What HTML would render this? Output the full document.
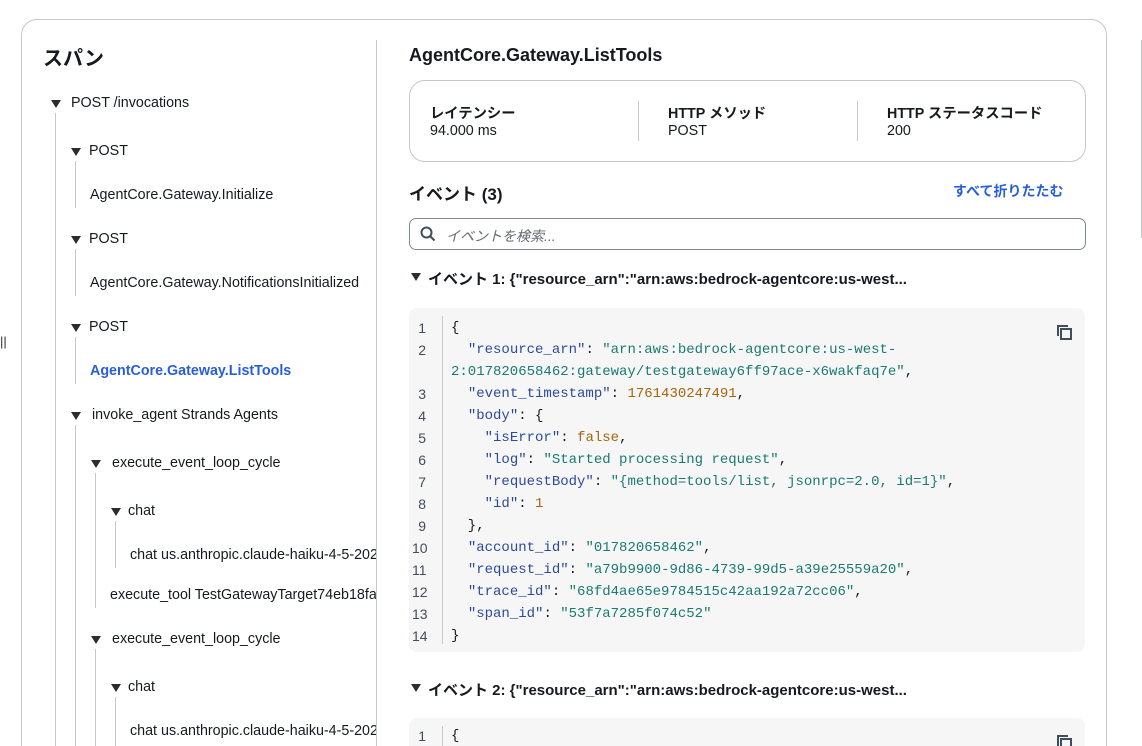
<!DOCTYPE html>
<html><head><meta charset="utf-8"><style>
html,body{margin:0;padding:0;overflow:hidden}
#w{width:1142px;height:746px;overflow:hidden;background:#fff;font-family:"Liberation Sans","Noto Sans CJK JP",sans-serif;color:#16191f;position:relative}
.a{position:absolute;white-space:nowrap}
.t{font-size:14.3px;color:#16191f}
.tri{position:absolute;width:0;height:0;border-left:5px solid transparent;border-right:5px solid transparent;border-top:8px solid #2a2e33}
.vl{position:absolute;width:1px;background:#c6c6cd}
.mono{font-family:"Liberation Mono","Noto Sans CJK JP",monospace;font-size:14px}
.k{color:#2c4a9a}.s{color:#1a7a70}.n{color:#a4650c}
</style></head><body><div id="w">
<div class="a" style="left:21px;top:19px;width:1084px;height:760px;border:1px solid #c6c6cd;border-radius:16px"></div>
<div class="vl" style="left:376px;top:40px;height:720px"></div>
<div class="vl" style="left:1141px;top:40px;height:198px"></div>
<div class="a" style="left:0;top:334px;font-size:13px;color:#333">||</div>

<div class="a" style="left:43px;top:42px;font-size:20px;font-weight:bold">スパン</div>

<div class="tri" style="left:51px;top:100px"></div><div class="a t" style="left:71px;top:95px">POST /invocations</div>
<div class="vl" style="left:55px;top:113px;height:640px"></div>

<div class="tri" style="left:71px;top:148px"></div><div class="a t" style="left:89px;top:143px">POST</div>
<div class="vl" style="left:75px;top:161px;height:47px"></div>
<div class="a t" style="left:90px;top:187px">AgentCore.Gateway.Initialize</div>

<div class="tri" style="left:71px;top:236px"></div><div class="a t" style="left:89px;top:231px">POST</div>
<div class="vl" style="left:75px;top:249px;height:47px"></div>
<div class="a t" style="left:90px;top:275px">AgentCore.Gateway.NotificationsInitialized</div>

<div class="tri" style="left:71px;top:324px"></div><div class="a t" style="left:89px;top:319px">POST</div>
<div class="vl" style="left:75px;top:337px;height:47px"></div>
<div class="a t" style="left:90px;top:363px;color:#295fd6;font-weight:bold">AgentCore.Gateway.ListTools</div>

<div class="tri" style="left:71px;top:412px"></div><div class="a t" style="left:92px;top:407px">invoke_agent Strands Agents</div>
<div class="vl" style="left:75px;top:425px;height:330px"></div>

<div class="tri" style="left:91px;top:460px"></div><div class="a t" style="left:112px;top:455px">execute_event_loop_cycle</div>
<div class="vl" style="left:95px;top:473px;height:135px"></div>
<div class="tri" style="left:111px;top:508px"></div><div class="a t" style="left:128px;top:503px">chat</div>
<div class="vl" style="left:115px;top:521px;height:47px"></div>
<div class="a t" style="left:130px;top:547px;width:246px;overflow:hidden">chat us.anthropic.claude-haiku-4-5-20251001</div>
<div class="a t" style="left:110px;top:587px;width:266px;overflow:hidden">execute_tool TestGatewayTarget74eb18fa</div>

<div class="tri" style="left:91px;top:636px"></div><div class="a t" style="left:112px;top:631px">execute_event_loop_cycle</div>
<div class="vl" style="left:95px;top:649px;height:110px"></div>
<div class="tri" style="left:111px;top:684px"></div><div class="a t" style="left:128px;top:679px">chat</div>
<div class="vl" style="left:115px;top:697px;height:60px"></div>
<div class="a t" style="left:130px;top:723px;width:246px;overflow:hidden">chat us.anthropic.claude-haiku-4-5-20251001</div>

<div class="a" style="left:409px;top:45px;font-size:18px;font-weight:bold">AgentCore.Gateway.ListTools</div>

<div class="a" style="left:409px;top:80px;width:675px;height:80px;border:1px solid #c6c6cd;border-radius:16px"></div>
<div class="a t" style="left:430px;top:102px;font-weight:bold">レイテンシー</div>
<div class="a t" style="left:430px;top:123px">94.000 ms</div>
<div class="vl" style="left:638px;top:101px;height:40px"></div>
<div class="a t" style="left:668px;top:102px;font-weight:bold">HTTP メソッド</div>
<div class="a t" style="left:668px;top:123px">POST</div>
<div class="vl" style="left:857px;top:101px;height:40px"></div>
<div class="a t" style="left:887px;top:102px;font-weight:bold">HTTP ステータスコード</div>
<div class="a t" style="left:887px;top:123px">200</div>

<div class="a" style="left:409px;top:180px;font-size:17px;font-weight:bold">イベント (3)</div>
<div class="a" style="left:953px;top:181px;font-size:14px;color:#295fd6;font-weight:bold">すべて折りたたむ</div>

<div class="a" style="left:409px;top:218px;width:675px;height:30px;border:1px solid #7d8998;border-radius:7px"></div>
<svg class="a" style="left:420px;top:226px" width="16" height="16"><circle cx="6.5" cy="6.5" r="5" fill="none" stroke="#414d5c" stroke-width="2"/><line x1="10" y1="10" x2="14.5" y2="14.5" stroke="#414d5c" stroke-width="2"/></svg>
<div class="a" style="left:446px;top:226px;font-size:14px;color:#656871;font-style:italic">イベントを検索...</div>

<div class="tri" style="left:411px;top:273px"></div>
<div class="a" style="left:428px;top:268px;font-size:15px;font-weight:bold">イベント 1: {"resource_arn":"arn:aws:bedrock-agentcore:us-west...</div>

<div class="a" style="left:409px;top:308px;width:676px;height:344px;background:#f6f6f7;border-radius:8px"></div>
<div class="vl" style="left:442px;top:316px;height:328px;background:#c6c6cd"></div>
<svg class="a" style="left:1055px;top:323px" width="18" height="18"><path d="M2 2v11h2V4h9V2z" fill="#414d5c"/><rect x="6" y="6" width="10" height="10" fill="none" stroke="#414d5c" stroke-width="2"/></svg>
<div class="a" style="left:412px;top:317px;line-height:22px;color:#414d5c;text-align:right;width:14px;font-size:14px">1<br>2<br><br>3<br>4<br>5<br>6<br>7<br>8<br>9<br>10<br>11<br>12<br>13<br>14</div>
<div class="a mono" style="left:451px;top:317px;line-height:22px;color:#16191f;white-space:pre">{
  <span class="k">"resource_arn"</span>: <span class="s">"arn:aws:bedrock-agentcore:us-west-</span>
<span class="s">2:017820658462:gateway/testgateway6ff97ace-x6wakfaq7e"</span>,
  <span class="k">"event_timestamp"</span>: <span class="n">1761430247491</span>,
  <span class="k">"body"</span>: {
    <span class="k">"isError"</span>: <span class="n">false</span>,
    <span class="k">"log"</span>: <span class="s">"Started processing request"</span>,
    <span class="k">"requestBody"</span>: <span class="s">"{method=tools/list, jsonrpc=2.0, id=1}"</span>,
    <span class="k">"id"</span>: <span class="n">1</span>
  },
  <span class="k">"account_id"</span>: <span class="s">"017820658462"</span>,
  <span class="k">"request_id"</span>: <span class="s">"a79b9900-9d86-4739-99d5-a39e25559a20"</span>,
  <span class="k">"trace_id"</span>: <span class="s">"68fd4ae65e9784515c42aa192a72cc06"</span>,
  <span class="k">"span_id"</span>: <span class="s">"53f7a7285f074c52"</span>
}</div>

<div class="tri" style="left:411px;top:684px"></div>
<div class="a" style="left:428px;top:679px;font-size:15px;font-weight:bold">イベント 2: {"resource_arn":"arn:aws:bedrock-agentcore:us-west...</div>
<div class="a" style="left:409px;top:718px;width:676px;height:60px;background:#f6f6f7;border-radius:8px"></div>
<div class="a" style="left:412px;top:728px;color:#414d5c;width:14px;text-align:right;font-size:14px">1</div>
<div class="vl" style="left:442px;top:726px;height:30px"></div>
<div class="a mono" style="left:451px;top:728px">{</div>
<svg class="a" style="left:1055px;top:733px" width="18" height="18"><path d="M2 2v11h2V4h9V2z" fill="#414d5c"/><rect x="6" y="6" width="10" height="10" fill="none" stroke="#414d5c" stroke-width="2"/></svg>
</div></body></html>
